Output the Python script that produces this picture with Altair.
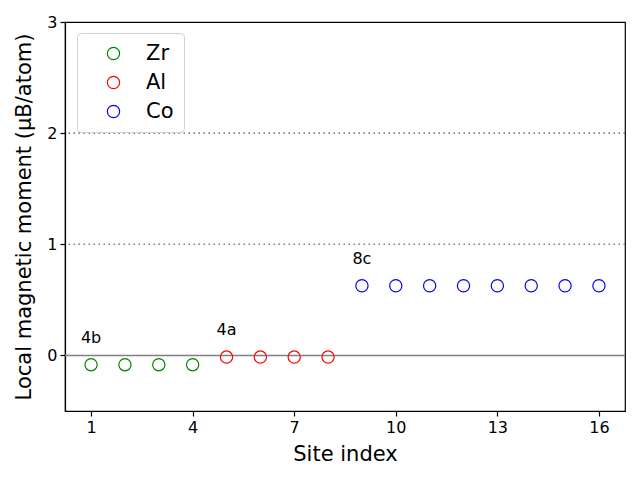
import altair as alt
import pandas as pd

# Data
zr_sites = [1, 2, 3, 4]
zr_moments = [-0.083, -0.083, -0.083, -0.083]
al_sites = [5, 6, 7, 8]
al_moments = [-0.015, -0.015, -0.015, -0.015]
co_sites = [9, 10, 11, 12, 13, 14, 15, 16]
co_moments = [0.627, 0.627, 0.627, 0.627, 0.627, 0.627, 0.627, 0.627]

elements = ["Zr", "Al", "Co"]
colors = ["green", "red", "blue"]
wyckoff = ["4b", "4a", "8c"]
x_ticks = [1, 4, 7, 10, 13, 16]
y_ticks = [0, 1, 2, 3]
dotted_levels = [1, 2]
zero_level = [0]

rows = []
for el, s, m in [("Zr", zr_sites, zr_moments), ("Al", al_sites, al_moments), ("Co", co_sites, co_moments)]:
    for si, mi in zip(s, m):
        rows.append({"site": si, "moment": mi, "element": el})
df = pd.DataFrame(rows)

ann = pd.DataFrame({
    "site": [zr_sites[0], al_sites[0], co_sites[0]],
    "moment": [zr_moments[0], al_moments[0], co_moments[0]],
    "label": wyckoff,
})

x_scale = alt.Scale(domain=[0.23, 16.77], nice=False, zero=False)
y_scale = alt.Scale(domain=[-0.5, 3], nice=False, zero=False)

FONT = "DejaVu Sans"

points = alt.Chart(df).mark_point(shape="circle", filled=False, size=150, strokeWidth=1.2, opacity=1).encode(
    x=alt.X("site:Q", scale=x_scale,
            axis=alt.Axis(title="Site index", values=x_ticks, format="d", titlePadding=8)),
    y=alt.Y("moment:Q", scale=y_scale,
            axis=alt.Axis(title="Local magnetic moment (μB/atom)", values=y_ticks, format="d", titlePadding=12)),
    color=alt.Color("element:N", scale=alt.Scale(domain=elements, range=colors),
                    legend=alt.Legend(title=None, orient="none", legendX=12, legendY=11,
                                      symbolType="circle", symbolFillColor="white",
                                      symbolSize=150, symbolStrokeWidth=1.2,
                                      labelFontSize=21, labelFont=FONT, labelOffset=22,
                                      rowPadding=7, padding=10,
                                      strokeColor="#d0d0d0", fillColor="white", cornerRadius=4,
                                      symbolOffset=16)),
)

dotted = alt.Chart(pd.DataFrame({"y": dotted_levels})).mark_rule(
    color="gray", strokeDash=[1.5, 3.5], strokeWidth=1.6).encode(y=alt.Y("y:Q", scale=y_scale))
zero = alt.Chart(pd.DataFrame({"y": zero_level})).mark_rule(
    color="gray", strokeWidth=1.6).encode(y=alt.Y("y:Q", scale=y_scale))

labels = alt.Chart(ann).mark_text(font=FONT, fontSize=16, baseline="alphabetic", align="center", dy=-22,
                                  color="black").encode(
    x=alt.X("site:Q", scale=x_scale),
    y=alt.Y("moment:Q", scale=y_scale),
    text="label:N",
)

chart = alt.layer(zero, dotted, points, labels).properties(
    width=560, height=389,
    background="white",
    autosize=alt.AutoSizeParams(type="none"),
    padding={"left": 65, "top": 22, "right": 15, "bottom": 69},
).configure_view(stroke="black", strokeWidth=1.2).configure_axis(
    grid=False, domainColor="black", tickColor="black", labelColor="black",
    labelFont=FONT, titleFont=FONT, labelFontSize=16, titleFontSize=21,
    titleFontWeight="normal", titleColor="black", tickSize=5, labelPadding=3,
    domainWidth=1.2, tickWidth=1.2,
)

chart.save("out.html", embed_options={"renderer": "svg", "actions": False})
